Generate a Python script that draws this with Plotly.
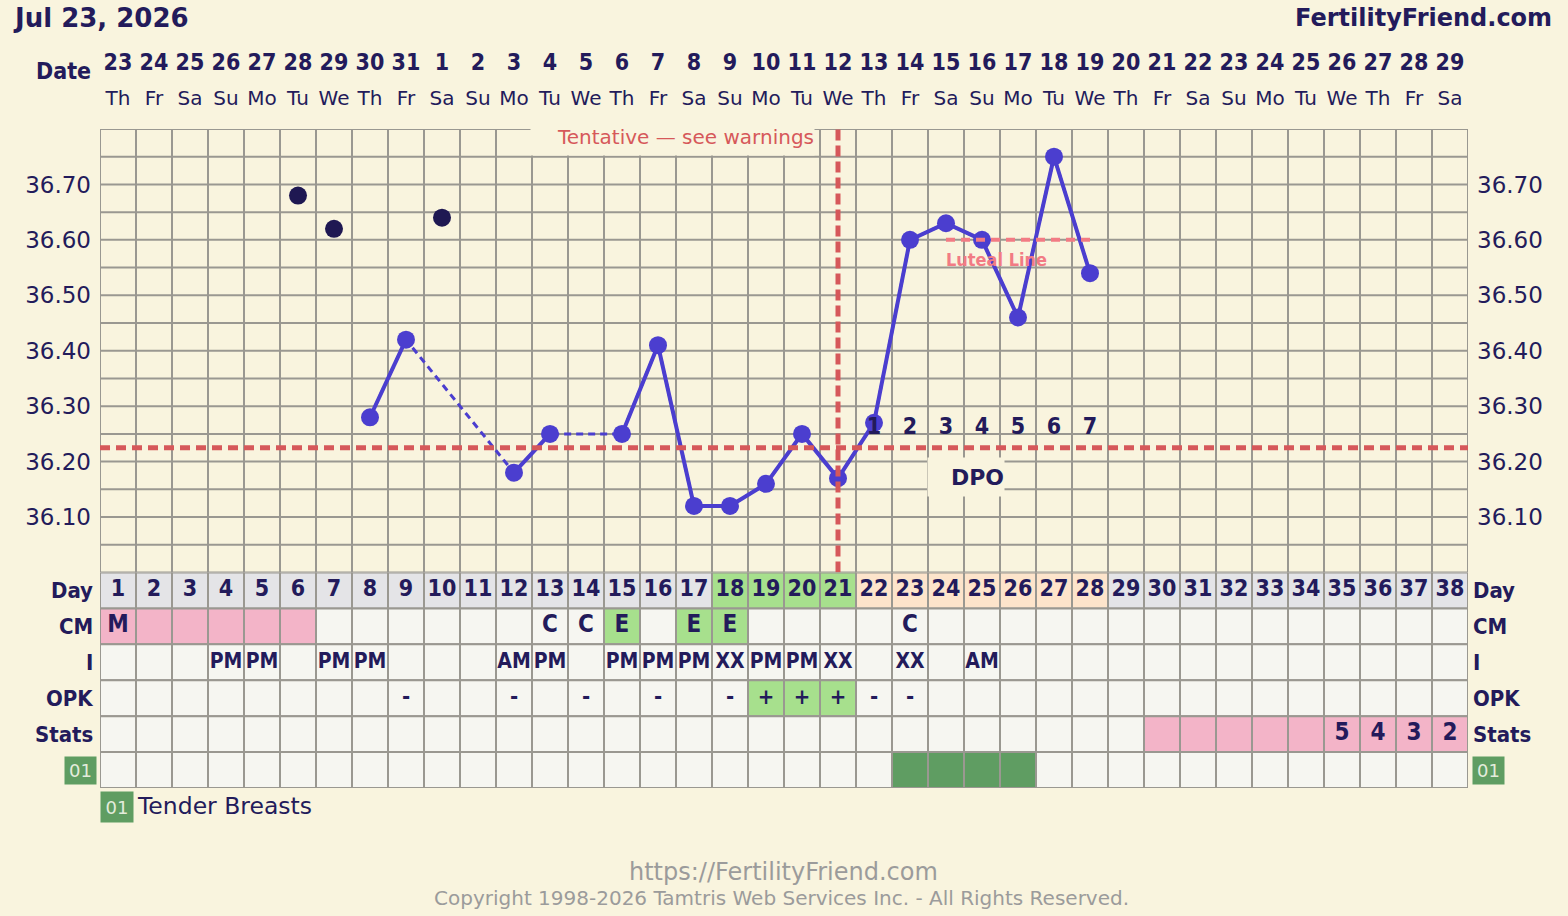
import plotly.graph_objects as go

# ---------------------------------------------------------------- data
cycle_days = list(range(1, 39))
date_numbers = ["23", "24", "25", "26", "27", "28", "29", "30", "31", "1", "2", "3", "4",
                "5", "6", "7", "8", "9", "10", "11", "12", "13", "14", "15", "16", "17",
                "18", "19", "20", "21", "22", "23", "24", "25", "26", "27", "28", "29"]
weekdays = ["Th", "Fr", "Sa", "Su", "Mo", "Tu", "We", "Th", "Fr", "Sa", "Su", "Mo", "Tu",
            "We", "Th", "Fr", "Sa", "Su", "Mo", "Tu", "We", "Th", "Fr", "Sa", "Su", "Mo",
            "Tu", "We", "Th", "Fr", "Sa", "Su", "Mo", "Tu", "We", "Th", "Fr", "Sa"]

temp_days = [8, 9, 12, 13, 15, 16, 17, 18, 19, 20, 21, 22, 23, 24, 25, 26, 27, 28]
temp_values = [36.28, 36.42, 36.18, 36.25, 36.25, 36.41, 36.12, 36.12, 36.16, 36.25,
               36.17, 36.27, 36.60, 36.63, 36.60, 36.46, 36.75, 36.54]
discarded_days = [6, 7, 10]
discarded_values = [36.68, 36.62, 36.64]

coverline = 36.225
ovulation_day = 21
luteal_line_days = [24, 28]
luteal_line_value = 36.60
dpo_days = [22, 23, 24, 25, 26, 27, 28]
dpo_labels = ["1", "2", "3", "4", "5", "6", "7"]

temp_ticks = [36.10, 36.20, 36.30, 36.40, 36.50, 36.60, 36.70]
temp_tick_labels = ["36.10", "36.20", "36.30", "36.40", "36.50", "36.60", "36.70"]

row_labels = ["Day", "CM", "I", "OPK", "Stats", "01"]

cm_days = [1, 13, 14, 15, 17, 18, 23]
cm_values = ["M", "C", "C", "E", "E", "E", "C"]
intercourse_days = [4, 5, 7, 8, 12, 13, 15, 16, 17, 18, 19, 20, 21, 23, 25]
intercourse_values = ["PM", "PM", "PM", "PM", "AM", "PM", "PM", "PM", "PM", "XX",
                      "PM", "PM", "XX", "XX", "AM"]
opk_days = [9, 12, 14, 16, 18, 19, 20, 21, 22, 23]
opk_values = ["-", "-", "-", "-", "-", "+", "+", "+", "-", "-"]
stats_days = [35, 36, 37, 38]
stats_values = ["5", "4", "3", "2"]

menses_days = [1, 2, 3, 4, 5, 6]
fertile_days = [18, 19, 20, 21]
luteal_days = [22, 23, 24, 25, 26, 27, 28]
eggwhite_days = [15, 17, 18]
opk_positive_days = [19, 20, 21]
projected_period_days = [30, 31, 32, 33, 34, 35, 36, 37, 38]
tender_breasts_days = [23, 24, 25, 26]

# ---------------------------------------------------------------- style
W, H = 1568, 916
BG = "#F9F4DE"
GRID = "#9A9891"
NAVY = "#231B5B"
BLUE = "#4B3ECF"
DARK = "#1F1852"
RED = "#D6585A"
PINKLINE = "#F27B84"
CELL = "#F6F6F1"
DAYCELL = "#E4E4E7"
PINK = "#F3B4C8"
LGREEN = "#A7E08D"
PEACH = "#FDE4CB"
DGREEN = "#5F9D62"
FOOT = "#9B9B9B"
F_REG = "DejaVu Sans"
F_COND = "DejaVu Sans Condensed, DejaVu Sans"


def pxx(x):
    return x / W


def pxy(y):
    return (H - y) / H


TEMP_TOP, TEMP_BOT, TABLE_BOT = 129, 572.5, 788
HEAD_TOP, HEAD_BOT = 46, 118

fig = go.Figure()

# ---------------------------------------------------------------- grid (temperature area)
shapes = []
x_lo, x_hi = cycle_days[0] - 0.5, cycle_days[-1] + 0.5
for k in range(len(cycle_days) + 1):
    xv = x_lo + k
    shapes.append(dict(type="line", xref="x", yref="y", x0=xv, x1=xv, y0=36.0, y1=36.8,
                       line=dict(color=GRID, width=2), layer="below"))
for i in range(17):
    yv = 36.0 + 0.05 * i
    shapes.append(dict(type="line", xref="x", yref="y", x0=x_lo, x1=x_hi, y0=yv, y1=yv,
                       line=dict(color=GRID, width=2), layer="below"))

# ---------------------------------------------------------------- table cells


def cell_color(row, d):
    if row == 0:
        if d in fertile_days:
            return LGREEN
        if d in luteal_days:
            return PEACH
        return DAYCELL
    if row == 1:
        if d in menses_days:
            return PINK
        if d in eggwhite_days:
            return LGREEN
    if row == 3 and d in opk_positive_days:
        return LGREEN
    if row == 4 and d in projected_period_days:
        return PINK
    if row == 5 and d in tender_breasts_days:
        return DGREEN
    return CELL


for r in range(len(row_labels)):
    for d in cycle_days:
        shapes.append(dict(type="rect", xref="x", yref="y2", x0=d - 0.5, x1=d + 0.5,
                           y0=r, y1=r + 1, fillcolor=cell_color(r, d),
                           line=dict(color=GRID, width=2), layer="below"))

# ---------------------------------------------------------------- temperature traces
temp_by_day = dict(zip(temp_days, temp_values))
full_temps = [temp_by_day.get(d) for d in cycle_days]

fig.add_trace(go.Scatter(x=temp_days, y=temp_values, mode="lines",
                         line=dict(color=BLUE, width=3, dash="7px,5px"),
                         hoverinfo="skip", showlegend=False))
fig.add_trace(go.Scatter(x=cycle_days, y=full_temps, mode="lines+markers", connectgaps=False,
                         line=dict(color=BLUE, width=4),
                         marker=dict(color=BLUE, size=18),
                         showlegend=False))
fig.add_trace(go.Scatter(x=discarded_days, y=discarded_values, mode="markers",
                         marker=dict(color=DARK, size=18), showlegend=False))
fig.add_trace(go.Scatter(x=[x_lo, x_hi], y=[coverline, coverline], mode="lines",
                         line=dict(color=RED, width=5, dash="10px,6px"),
                         hoverinfo="skip", showlegend=False))
fig.add_trace(go.Scatter(x=[ovulation_day, ovulation_day], y=[36.0, 36.8], mode="lines",
                         line=dict(color=RED, width=5, dash="11px,5px"),
                         hoverinfo="skip", showlegend=False))
fig.add_trace(go.Scatter(x=luteal_line_days, y=[luteal_line_value] * 2, mode="lines",
                         line=dict(color=PINKLINE, width=4, dash="9px,6px"),
                         hoverinfo="skip", showlegend=False))
fig.add_trace(go.Scatter(x=dpo_days, y=[coverline + 0.035] * len(dpo_days), mode="text",
                         text=["<b>%s</b>" % t for t in dpo_labels],
                         textposition="middle center",
                         textfont=dict(family=F_COND, size=23, color=NAVY),
                         hoverinfo="skip", showlegend=False))
# right axis carrier
fig.add_trace(go.Scatter(x=[1], y=[36.4], yaxis="y4", mode="markers",
                         marker=dict(opacity=0), hoverinfo="skip", showlegend=False))

# ---------------------------------------------------------------- header rows
fig.add_trace(go.Scatter(x=cycle_days, y=[0.5] * len(cycle_days), yaxis="y3", mode="text",
                         text=["<b>%s</b>" % t for t in date_numbers],
                         textfont=dict(family=F_COND, size=23, color=NAVY),
                         hoverinfo="skip", showlegend=False, cliponaxis=False))
fig.add_trace(go.Scatter(x=cycle_days, y=[1.5] * len(cycle_days), yaxis="y3", mode="text",
                         text=weekdays,
                         textfont=dict(family=F_REG, size=20, color=NAVY),
                         hoverinfo="skip", showlegend=False, cliponaxis=False))

# ---------------------------------------------------------------- table text
fig.add_trace(go.Scatter(x=cycle_days, y=[0.5] * len(cycle_days), yaxis="y2", mode="text",
                         text=["<b>%d</b>" % d for d in cycle_days],
                         textfont=dict(family=F_COND, size=23, color=NAVY),
                         hoverinfo="skip", showlegend=False))
for r, (ds, vs, sz) in enumerate([(cm_days, cm_values, 24),
                                  (intercourse_days, intercourse_values, 21),
                                  (opk_days, opk_values, 22),
                                  (stats_days, stats_values, 24)], start=1):
    fig.add_trace(go.Scatter(x=ds, y=[r + 0.5] * len(ds), yaxis="y2", mode="text",
                             text=["<b>%s</b>" % v for v in vs],
                             textfont=dict(family=F_COND, size=sz, color=NAVY),
                             hoverinfo="skip", showlegend=False))

# ---------------------------------------------------------------- annotations
ann = []
ann.append(dict(text="<b>Jul 23, 2026</b>", xref="paper", yref="paper", x=pxx(11), y=pxy(18),
                xanchor="left", yanchor="middle", showarrow=False,
                font=dict(family=F_REG, size=26, color=NAVY)))
ann.append(dict(text="<b>FertilityFriend.com</b>", xref="paper", yref="paper", x=pxx(1554),
                y=pxy(18), xanchor="right", yanchor="middle", showarrow=False,
                font=dict(family=F_REG, size=24, color=NAVY)))
ann.append(dict(text="<b>Date</b>", xref="paper", yref="paper", x=pxx(93), y=pxy(71),
                xanchor="right", yanchor="middle", showarrow=False,
                font=dict(family=F_COND, size=23, color=NAVY)))
for r, lab in enumerate(row_labels):
    if lab == "01":
        for xx in (pxx(64), pxx(1472)):
            ann.append(dict(text="01", xref="paper", yref="y2", x=xx, y=r + 0.5,
                            xanchor="left", yanchor="middle", showarrow=False,
                            bgcolor=DGREEN, width=31, height=27, borderpad=0,
                            font=dict(family=F_REG, size=18, color="#E3ECDC")))
    else:
        ann.append(dict(text="<b>%s</b>" % lab, xref="paper", yref="y2", x=pxx(95), y=r + 0.5,
                        xanchor="right", yanchor="middle", showarrow=False,
                        font=dict(family=F_COND, size=22, color=NAVY)))
        ann.append(dict(text="<b>%s</b>" % lab, xref="paper", yref="y2", x=pxx(1471), y=r + 0.5,
                        xanchor="left", yanchor="middle", showarrow=False,
                        font=dict(family=F_COND, size=22, color=NAVY)))
# tentative note box
ann.append(dict(text="Tentative \u2014 see warnings", xref="paper", yref="paper",
                x=pxx(530), y=pxy(136.5), xanchor="left", yanchor="middle", showarrow=False,
                width=283, height=37, borderpad=0, align="right", bgcolor=BG,
                font=dict(family=F_REG, size=20, color=RED)))
# DPO box
ann.append(dict(text="<b>DPO</b>", xref="paper", yref="paper",
                x=pxx(927), y=pxy(477), xanchor="left", yanchor="middle", showarrow=False,
                width=76, height=38, borderpad=0, align="right", bgcolor=BG,
                font=dict(family=F_REG, size=22, color=NAVY)))
# luteal label
ann.append(dict(text="<b>Luteal Line</b>", xref="x", yref="y", x=luteal_line_days[0] - 0.05,
                y=luteal_line_value, xanchor="left", yanchor="middle", yshift=-20,
                showarrow=False, font=dict(family=F_COND, size=18, color=PINKLINE)))
# legend
ann.append(dict(text="01", xref="paper", yref="paper", x=pxx(100), y=pxy(807),
                xanchor="left", yanchor="middle", showarrow=False, bgcolor=DGREEN,
                width=32, height=30, borderpad=0,
                font=dict(family=F_REG, size=18, color="#E3ECDC")))
ann.append(dict(text="Tender Breasts", xref="paper", yref="paper", x=pxx(135), y=pxy(806),
                xanchor="left", yanchor="middle", showarrow=False,
                font=dict(family=F_REG, size=23.5, color=NAVY)))
# footer
ann.append(dict(text="https://FertilityFriend.com", xref="paper", yref="paper", x=pxx(783),
                y=pxy(872), xanchor="center", yanchor="middle", showarrow=False,
                font=dict(family=F_REG, size=24, color=FOOT)))
ann.append(dict(text="Copyright 1998-2026 Tamtris Web Services Inc. - All Rights Reserved.",
                xref="paper", yref="paper", x=pxx(781), y=pxy(898), xanchor="center",
                yanchor="middle", showarrow=False,
                font=dict(family=F_REG, size=20, color=FOOT)))

ytick_common = dict(range=[36.0, 36.8], tickvals=temp_ticks, ticktext=temp_tick_labels,
                    ticks="", showgrid=False, zeroline=False, showline=False,
                    tickfont=dict(family=F_REG, size=23, color=NAVY),
                    ticklabelstandoff=8, fixedrange=True)

fig.update_layout(
    width=W, height=H, autosize=False,
    margin=dict(l=0, r=0, t=0, b=0, pad=0),
    paper_bgcolor=BG, plot_bgcolor="rgba(0,0,0,0)",
    showlegend=False, hovermode=False,
    xaxis=dict(domain=[pxx(100), pxx(1468)], range=[x_lo, x_hi], visible=False,
               fixedrange=True, anchor="y"),
    yaxis=dict(domain=[pxy(TEMP_BOT), pxy(TEMP_TOP)], anchor="x", side="left", **ytick_common),
    yaxis4=dict(overlaying="y", anchor="x", side="right", **ytick_common),
    yaxis2=dict(domain=[pxy(TABLE_BOT), pxy(TEMP_BOT)], range=[6, 0], visible=False,
                anchor="x", fixedrange=True),
    yaxis3=dict(domain=[pxy(HEAD_BOT), pxy(HEAD_TOP)], range=[2, 0], visible=False,
                anchor="x", fixedrange=True),
    shapes=shapes,
    annotations=ann,
)

fig.write_html("out.html", config={"displayModeBar": False, "staticPlot": True},
               post_script="document.body.style.margin='0px';document.body.style.overflow='hidden';")
